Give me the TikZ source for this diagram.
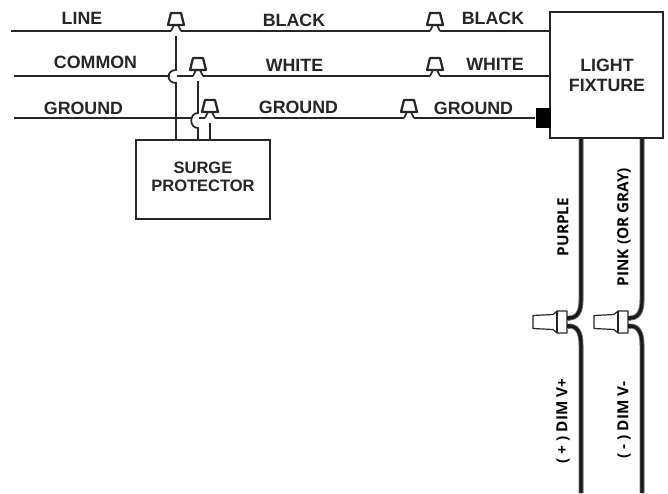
\documentclass[tikz,border=0pt]{standalone}
\usepackage{fontspec}
\setmainfont{Liberation Sans}
\setsansfont{Open Sans}
\usetikzlibrary{positioning}
\tikzset{
  Wire/.style={line width=1.7pt,draw=black!85}, % thin wires
  FatWire/.style={line width=5pt,draw=black!55,postaction={draw=black!90,line width=3.2pt}},
  Tag/.style={font=\fontsize{17.8}{20}\selectfont\bfseries,text=black!85,inner sep=0pt,align=center},
  SideTag/.style={Tag,font=\fontsize{15.3}{17}\sffamily\selectfont\bfseries,text=black,rotate=90},
  Box/.style={draw=black!85,line width=2pt,fill=white,inner sep=0pt},
  TopNut/.pic={
    \draw[line width=2.2pt,draw=black!85,fill=white,line join=round] (-8,-6) -- (-5,-18) -- (5,-18) -- (8,-6) -- cycle;
    \draw[Wire] (-5,0) -- (-2,-6) (5,0) -- (2,-6);
  },
  SideNut/.pic={
    \draw[line width=1.2pt,draw=black!85,fill=white,line join=round]
      (-37,-6.5) -- (-17,-7.5) -- (-13,-11) -- (-3,-11) -- (-3,11) -- (-13,11) -- (-17,7.5) -- (-37,6.5) -- cycle;
    \draw[line width=1.2pt,draw=black!85] (-13,-11) -- (-13,11);
    \draw[FatWire] (0,-4) -- (-3,-4) (0,4) -- (-3,4);
  }
}

\begin{document}
\begin{tikzpicture}[x=1pt,y=-1pt]
\useasboundingbox (0,0) rectangle (668,493);

%Gehaeuse
\node[Box,minimum width=134pt,minimum height=79pt] (Surge) at (203,179.5) {};
\node[Box,minimum width=113pt,minimum height=126pt] (Fixture) at (606.5,75) {};
\node[fill=black,minimum width=15pt,minimum height=20pt,inner sep=0pt] (Lug) at (543,118) {};

%Anschlusspunkte
\coordinate (LineL) at (11,31);
\coordinate (ComL) at (14,76);
\coordinate (GndL) at (14,118);
\coordinate (NutA) at (176,31);
\coordinate (NutB) at (198,76);
\coordinate (NutC) at (210,118);
\coordinate (NutD) at (435,31);
\coordinate (NutE) at (435,76);
\coordinate (NutF) at (409,118);
\coordinate (LineR) at (551,31);
\coordinate (ComR) at (551,76);
\coordinate (PlugA) at (581,322);
\coordinate (PlugB) at (642,322);

%Leiterbahnen
\draw[Wire] (LineL) -- ([xshift=-5pt]NutA);
\draw[Wire] ([xshift=5pt]NutA) -- ([xshift=-5pt]NutD);
\draw[Wire] ([xshift=5pt]NutD) -- (LineR);
\draw[Wire] (ComL) -- ([xshift=-5pt]NutB);
\draw[Wire] ([xshift=5pt]NutB) -- ([xshift=-5pt]NutE);
\draw[Wire] ([xshift=5pt]NutE) -- (ComR);
\draw[Wire] (GndL) -- ([xshift=-5pt]NutC);
\draw[Wire] ([xshift=5pt]NutC) -- ([xshift=-5pt]NutF);
\draw[Wire] ([xshift=5pt]NutF) -- (Lug.west);

%Abzweige zum Schutz
\fill[white] (170,71) rectangle (176.5,82);
\fill[white] (192,114) rectangle (198.5,127);
\draw[Wire] (NutA |- Surge.north) -- (176,83) .. controls (166,83) and (166,70) .. (176,70) -- ([yshift=-5pt]NutA);
\draw[Wire] (NutB |- Surge.north) -- (198,128) .. controls (189,128) and (189,113) .. (198,113) -- ([yshift=-5pt]NutB);
\draw[Wire] (NutC |- Surge.north) -- ([yshift=-5pt]NutC);

%Klemmen
\pic at (NutA) {TopNut};
\pic at (NutB) {TopNut};
\pic at (NutC) {TopNut};
\pic at (NutD) {TopNut};
\pic at (NutE) {TopNut};
\pic at (NutF) {TopNut};

%dicke Adern
\draw[FatWire] (PlugA |- Fixture.south) -- (581,300) .. controls (581,312) and (577,318) .. (569,318);
\draw[FatWire] (581,493) -- (581,345) .. controls (581,332) and (577,326) .. (569,326);
\draw[FatWire] (PlugB |- Fixture.south) -- (642,300) .. controls (642,312) and (638,318) .. (630,318);
\draw[FatWire] (642,493) -- (642,345) .. controls (642,332) and (638,326) .. (630,326);
\pic at (570,322) {SideNut};
\pic at (631,322) {SideNut};

%Beschriftung
\node[Tag] (TagLine) at (82,18) {LINE};
\node[Tag] (TagCommon) at (95.5,62) {COMMON};
\node[Tag] (TagGround) at (83.5,108) {GROUND};
\node[Tag] (TagBlackA) at (294,20) {BLACK};
\node[Tag] (TagBlackB) at (493,18) {BLACK};
\node[Tag] (TagWhiteA) at (294.5,65) {WHITE};
\node[Tag] (TagWhiteB) at (495,64) {WHITE};
\node[Tag] (TagGroundA) at (298.5,107) {GROUND};
\node[Tag] (TagGroundB) at (473.5,108) {GROUND};
\node[Tag] (TagFixture) at (607,75) {LIGHT\\FIXTURE};
\node[Tag,font=\fontsize{16.5}{18}\selectfont\bfseries] (TagSurge) at (203,177) {SURGE\\PROTECTOR};
\node[SideTag] (TagPurple) at (563,227) {PURPLE};
\node[SideTag] (TagPink) at (624,227) {PINK (OR GRAY)};
\node[SideTag] (TagPlus) at (563,421) {( + ) DIM V+};
\node[SideTag] (TagMinus) at (624,420) {( - ) DIM V-};
\end{tikzpicture}
\end{document}
